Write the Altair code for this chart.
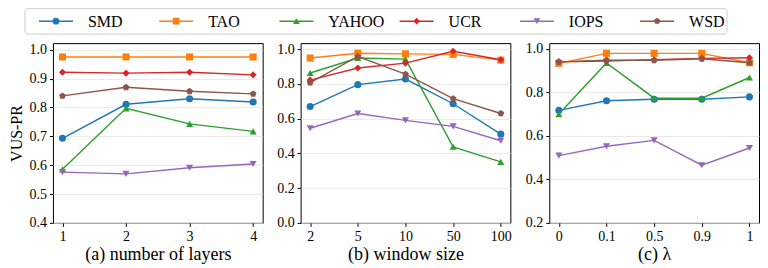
import altair as alt
import pandas as pd

FONT = "Liberation Serif, Times New Roman, serif"

series = ["SMD", "TAO", "YAHOO", "UCR", "IOPS", "WSD"]
colors = ["#1f77b4", "#ff7f0e", "#2ca02c", "#d62728", "#9467bd", "#8c564b"]
PENT = "M0,-1L0.951,-0.309L0.588,0.809L-0.588,0.809L-0.951,-0.309Z"
shapes = ["circle", "square", "triangle-up", "diamond", "triangle-down", PENT]

# (a) number of layers
layers_x = ["1", "2", "3", "4"]
layers_SMD = [0.693, 0.811, 0.830, 0.819]
layers_TAO = [0.975, 0.975, 0.975, 0.975]
layers_YAHOO = [0.586, 0.797, 0.743, 0.717]
layers_UCR = [0.922, 0.919, 0.922, 0.913]
layers_IOPS = [0.576, 0.570, 0.591, 0.604]
layers_WSD = [0.840, 0.870, 0.856, 0.847]

# (b) window size
window_x = ["2", "5", "10", "50", "100"]
window_SMD = [0.670, 0.796, 0.828, 0.686, 0.511]
window_TAO = [0.949, 0.977, 0.973, 0.970, 0.937]
window_YAHOO = [0.863, 0.949, 0.943, 0.438, 0.351]
window_UCR = [0.822, 0.892, 0.920, 0.988, 0.939]
window_IOPS = [0.545, 0.630, 0.590, 0.556, 0.473]
window_WSD = [0.808, 0.958, 0.856, 0.715, 0.630]

# (c) lambda
lambda_x = ["0", "0.1", "0.5", "0.9", "1"]
lambda_SMD = [0.717, 0.761, 0.768, 0.768, 0.779]
lambda_TAO = [0.933, 0.979, 0.979, 0.979, 0.936]
lambda_YAHOO = [0.700, 0.935, 0.773, 0.773, 0.868]
lambda_UCR = [0.940, 0.944, 0.950, 0.956, 0.959]
lambda_IOPS = [0.509, 0.552, 0.579, 0.465, 0.544]
lambda_WSD = [0.940, 0.948, 0.947, 0.954, 0.936]

PW, PH = 210, 180


def panel(xs, vals, title, ydom, yticks, pad, ytitle=None):
    rows = []
    for s, v in zip(series, vals):
        for x, y in zip(xs, v):
            rows.append({"x": x, "v": y, "s": s})
    df = pd.DataFrame(rows)
    yaxis_kw = dict(values=yticks, format=".1f", labelFont=FONT, titleFont=FONT)
    yaxis_kw["title"] = ytitle if ytitle else None
    base = alt.Chart(df).encode(
        x=alt.X("x:O", sort=xs, scale=alt.Scale(type="point", padding=pad),
                axis=alt.Axis(title=title, labelAngle=0, labelFont=FONT, titleFont=FONT)),
        y=alt.Y("v:Q", scale=alt.Scale(domain=ydom, nice=False, zero=False),
                axis=alt.Axis(**yaxis_kw)),
        color=alt.Color("s:N", scale=alt.Scale(domain=series, range=colors), legend=None),
    )
    lines = base.mark_line(strokeWidth=1.4)
    pts = base.mark_point(filled=True, opacity=1, size=50).encode(
        shape=alt.Shape("s:N", scale=alt.Scale(domain=series, range=shapes), legend=None)
    )
    return alt.layer(lines, pts).properties(width=PW, height=PH)


p1 = panel(layers_x, [layers_SMD, layers_TAO, layers_YAHOO, layers_UCR, layers_IOPS, layers_WSD],
           "(a) number of layers", [0.4, 1.023], [0.4, 0.5, 0.6, 0.7, 0.8, 0.9, 1.0], 0.15, "VUS-PR")
p2 = panel(window_x, [window_SMD, window_TAO, window_YAHOO, window_UCR, window_IOPS, window_WSD],
           "(b) window size", [0.0, 1.035], [0.0, 0.2, 0.4, 0.6, 0.8, 1.0], 0.2)
p3 = panel(lambda_x, [lambda_SMD, lambda_TAO, lambda_YAHOO, lambda_UCR, lambda_IOPS, lambda_WSD],
           "(c) λ", [0.2, 1.026], [0.2, 0.4, 0.6, 0.8, 1.0], 0.2)

# legend built as its own small chart; its origin sits at the left edge of panel (a)
ORIGIN = 52  # page x of panel (a) plot area
LW = 690
leg_df = pd.DataFrame({"s": series, "i": list(range(len(series)))})
xsc = alt.Scale(domain=[0, LW], nice=False, zero=False)
leg_base = alt.Chart(leg_df).transform_calculate(
    x0=f"{38 - ORIGIN} + datum.i * 120.4", x1="datum.x0 + 34", xm="datum.x0 + 17", xt="datum.x0 + 49"
)
box = alt.Chart(pd.DataFrame({"a": [0]})).mark_rect(
    fill="white", stroke="#cccccc", strokeWidth=1, cornerRadius=3
).encode(x=alt.value(24 - ORIGIN), x2=alt.value(727 - ORIGIN), y=alt.value(0.5), y2=alt.value(26))
leg_lines = leg_base.mark_rule(strokeWidth=1.5).encode(
    x=alt.X("x0:Q", scale=xsc, axis=None), x2="x1:Q", y=alt.value(13),
    color=alt.Color("s:N", scale=alt.Scale(domain=series, range=colors), legend=None),
)
leg_pts = leg_base.mark_point(filled=True, opacity=1, size=45).encode(
    x=alt.X("xm:Q", scale=xsc, axis=None), y=alt.value(13),
    color=alt.Color("s:N", scale=alt.Scale(domain=series, range=colors), legend=None),
    shape=alt.Shape("s:N", scale=alt.Scale(domain=series, range=shapes), legend=None),
)
leg_text = leg_base.mark_text(font=FONT, fontSize=16, align="left", baseline="middle", color="black").encode(
    x=alt.X("xt:Q", scale=xsc, axis=None), y=alt.value(13.5), text="s:N"
)
legend = alt.layer(box, leg_lines, leg_pts, leg_text).properties(
    width=LW, height=26, view=alt.ViewBackground(stroke=None)
)

row = alt.hconcat(p1, p2, p3, spacing=12)
chart = alt.vconcat(legend, row, spacing=6).properties(padding=0).configure_view(
    stroke="black", strokeWidth=1
).configure_axis(
    domain=False, tickColor="black", tickSize=3.5, labelColor="black", titleColor="black",
    labelFont=FONT, titleFont=FONT, labelFontSize=14, titleFontSize=18,
    titleFontWeight="normal", gridColor="#e3e3e3", gridWidth=0.8, labelPadding=3, titlePadding=2,
).configure_axisY(titleFontSize=16, titlePadding=4)

chart.save("out.html", embed_options={"renderer": "svg", "actions": False})
